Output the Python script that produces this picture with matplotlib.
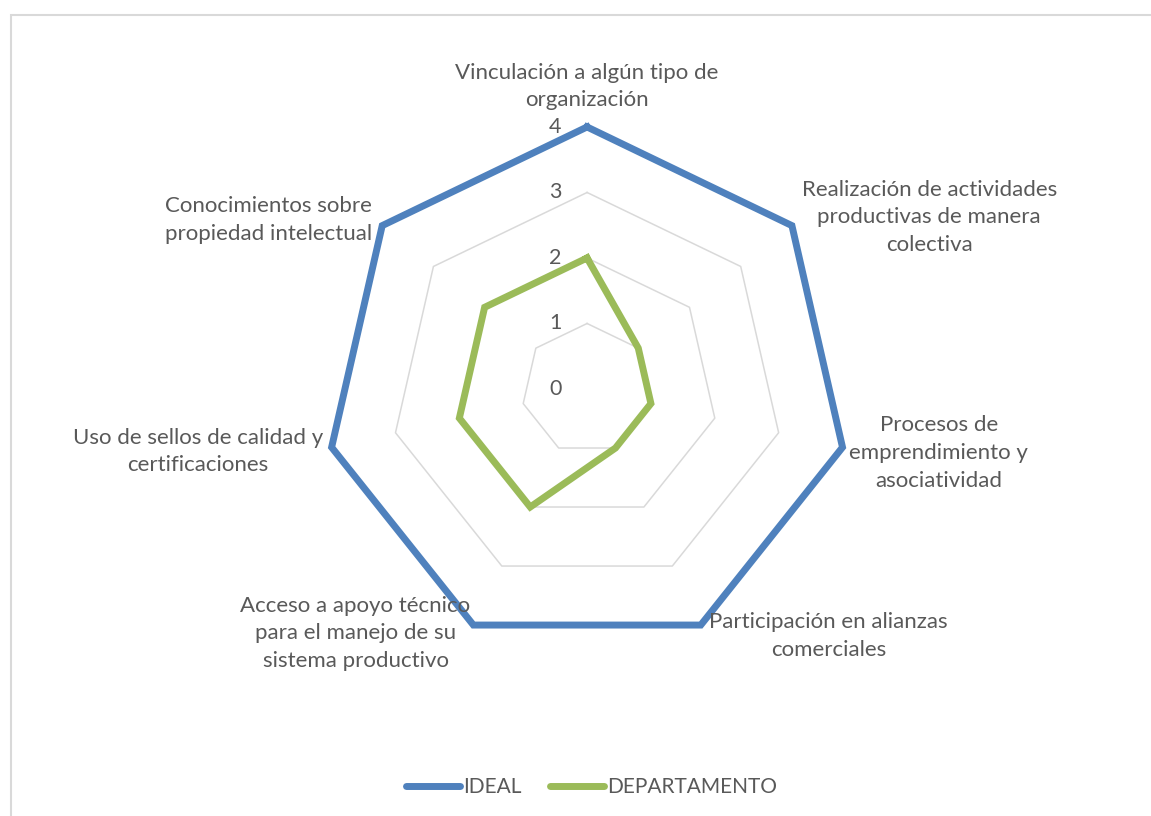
import numpy as np
import matplotlib.pyplot as plt
from matplotlib.patches import Rectangle

# Data
categorias = [
    "Vinculación a algún tipo de\norganización",
    "Realización de actividades\nproductivas de manera\ncolectiva",
    "Procesos de\nemprendimiento y\nasociatividad",
    "Participación en alianzas\ncomerciales",
    "Acceso a apoyo técnico\npara el manejo de su\nsistema productivo",
    "Uso de sellos de calidad y\ncertificaciones",
    "Conocimientos sobre\npropiedad intelectual",
]
ideal = [4, 4, 4, 4, 4, 4, 4]
departamento = [2, 1, 1, 1, 2, 2, 2]
niveles = [0, 1, 2, 3, 4]

plt.rcParams['font.family'] = ['Lato', 'DejaVu Sans']
gris_texto = '#595959'
fs = 16

n = len(categorias)
ang = np.linspace(0, 2 * np.pi, n, endpoint=False)
ang_c = np.append(ang, ang[0])

fig = plt.figure(figsize=(11.51, 8.16), dpi=100)
ax = fig.add_axes([0.2824, 0.2022, 0.4553, 0.6422], projection='polar')
ax.set_theta_offset(np.pi / 2)
ax.set_theta_direction(-1)
ax.set_ylim(0, 4)
ax.grid(False)
ax.spines['polar'].set_visible(False)
ax.set_xticks([])
ax.set_yticks([])
ax.patch.set_alpha(0)

# heptagon grid rings
for lv in niveles[1:]:
    ax.plot(ang_c, [lv] * (n + 1), color='#d9d9d9', lw=1.1, zorder=1, clip_on=False)

# value axis labels
for lv in niveles:
    ax.annotate(str(lv), xy=(0, lv), xytext=(-23, 0), textcoords='offset points',
                ha='center', va='center', fontsize=15.5, color=gris_texto)

# series
ax.plot(ang_c, np.append(ideal, ideal[0]), color='#4f81bd', lw=5,
        solid_joinstyle='miter', zorder=3, clip_on=False, label='IDEAL')
ax.plot(ang_c, np.append(departamento, departamento[0]), color='#9bbb59', lw=5,
        solid_joinstyle='miter', zorder=4, clip_on=False, label='DEPARTAMENTO')

# category labels
desplaz = [(0, 12), (7, 6), (5, -4), (6, -8), (-2, -6), (-6, -3), (-7, 4)]
alin = [('center', 'bottom'), ('left', 'center'), ('left', 'center'), ('left', 'center'),
        ('right', 'center'), ('right', 'center'), ('right', 'center')]
for a, txt, d, (ha, va) in zip(ang, categorias, desplaz, alin):
    ax.annotate(txt, xy=(a, 4), xytext=d, textcoords='offset points', ha=ha, va=va,
                multialignment='center', fontsize=fs, color=gris_texto, linespacing=1.48)

leg = fig.legend(loc='center', bbox_to_anchor=(0.514, 0.0355), ncol=2, frameon=False,
                 fontsize=15, handlelength=2.6, handletextpad=0.15, columnspacing=1.35)
for t in leg.get_texts():
    t.set_color(gris_texto)
for h in leg.get_lines():
    h.set_solid_capstyle('round')

# chart frame
fig.patches.append(Rectangle((11 / 1151, -0.05), 1.2, 1 - 15 / 816 + 0.05,
                             transform=fig.transFigure, fill=False,
                             edgecolor='#d9d9d9', lw=1.5))

fig.savefig('out.png', dpi=100)
